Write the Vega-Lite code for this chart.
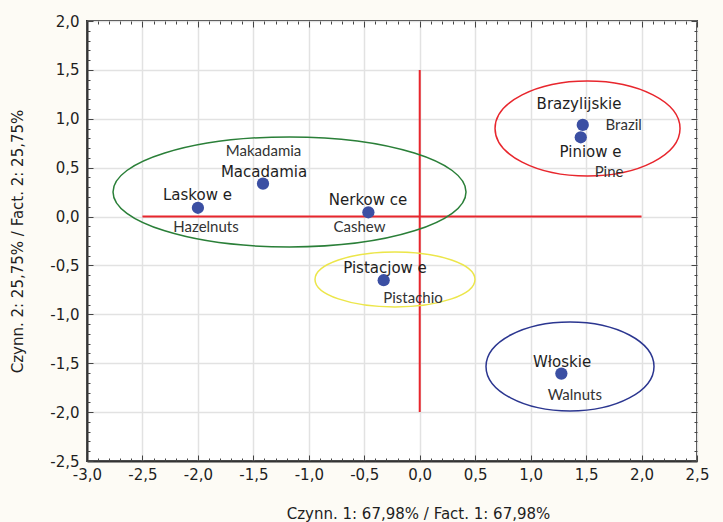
{
  "$schema": "https://vega.github.io/schema/vega-lite/v6.json",
  "width": 610,
  "height": 440,
  "autosize": "none",
  "padding": {"left": 87, "top": 21, "right": 26, "bottom": 61},
  "background": "#fdfbf5",
  "config": {
    "view": {"stroke": "#333333", "strokeWidth": 2, "fill": "white"},
    "axis": {"labelFont": "DejaVu Sans", "titleFont": "DejaVu Sans"}
  },
  "datasets": {
    "nuts": [
      {"pl": "Laskow e", "en": "Hazelnuts", "x": -2.0, "y": 0.09, "pl_x": -2.004, "pl_y": 0.22, "en_x": -1.927, "en_y": -0.106},
      {"pl": "Macadamia", "en": "Makadamia", "x": -1.413, "y": 0.336, "pl_x": -1.404, "pl_y": 0.459, "en_x": -1.408, "en_y": 0.671},
      {"pl": "Nerkow ce", "en": "Cashew", "x": -0.463, "y": 0.044, "pl_x": -0.466, "pl_y": 0.17, "en_x": -0.543, "en_y": -0.106},
      {"pl": "Brazylijskie", "en": "Brazil", "x": 1.47, "y": 0.937, "pl_x": 1.436, "pl_y": 1.148, "en_x": 1.839, "en_y": 0.937},
      {"pl": "Piniow e", "en": "Pine", "x": 1.452, "y": 0.811, "pl_x": 1.54, "pl_y": 0.657, "en_x": 1.707, "en_y": 0.453},
      {"pl": "Pistacjow e", "en": "Pistachio", "x": -0.325, "y": -0.651, "pl_x": -0.313, "pl_y": -0.526, "en_x": -0.06, "en_y": -0.829},
      {"pl": "Włoskie", "en": "Walnuts", "x": 1.277, "y": -1.606, "pl_x": 1.283, "pl_y": -1.484, "en_x": 1.398, "en_y": -1.824}
    ],
    "groups": [
      {"group": "g1", "cx": -1.174, "cy": 0.252},
      {"group": "g2", "cx": 1.513, "cy": 0.901},
      {"group": "g3", "cx": -0.223, "cy": -0.643},
      {"group": "g4", "cx": 1.355, "cy": -1.533}
    ],
    "cross": [
      {"x": -2.5, "x2": 2.0, "y": 0, "y2": 0},
      {"x": 0, "x2": 0, "y": 1.5, "y2": -2.0}
    ]
  },
  "resolve": {"axis": {"x": "independent", "y": "independent"}},
  "layer": [
    {
      "data": {"name": "cross"},
      "mark": {"type": "rule", "color": "#e8262d", "strokeWidth": 2},
      "encoding": {
        "x": {"field": "x", "type": "quantitative",
          "scale": {"domain": [-3, 2.5], "nice": false, "zero": false},
          "axis": {"orient": "bottom", "values": [-3, -2.5, -2, -1.5, -1, -0.5, 0, 0.5, 1, 1.5, 2, 2.5],
            "labelExpr": "replace(replace(format(datum.value, '.1f'), '.', ','), '\u2212', '-')",
            "labelFontSize": 15, "labelColor": "#1e1e1e", "labelPadding": 6, "labelFlush": false,
            "ticks": false, "domain": true, "domainColor": "#333333", "domainWidth": 2,
            "grid": true, "gridColor": "#e2e2e2", "gridWidth": 1.5,
            "title": "Czynn. 1: 67,98% / Fact. 1: 67,98%", "titleFontSize": 15, "titleFontWeight": "normal",
            "titleColor": "#1e1e1e", "titleX": 331, "titleY": 52, "titleBaseline": "middle", "titleAnchor": "middle"}},
        "x2": {"field": "x2"},
        "y": {"field": "y", "type": "quantitative",
          "scale": {"domain": [-2.5, 2], "nice": false, "zero": false},
          "axis": {"orient": "left", "values": [-2.5, -2, -1.5, -1, -0.5, 0, 0.5, 1, 1.5, 2],
            "labelExpr": "replace(replace(format(datum.value, '.1f'), '.', ','), '\u2212', '-')",
            "labelFontSize": 15, "labelColor": "#1e1e1e", "labelPadding": 8, "labelFlush": false,
            "ticks": false, "domain": true, "domainColor": "#333333", "domainWidth": 2,
            "grid": true, "gridColor": "#e2e2e2", "gridWidth": 1.5,
            "title": "Czynn. 2: 25,75% / Fact. 2: 25,75%", "titleFontSize": 15, "titleFontWeight": "normal",
            "titleColor": "#1e1e1e", "titleX": -70, "titleY": 220, "titleAngle": -90, "titleBaseline": "middle", "titleAlign": "center"}},
        "y2": {"field": "y2"}
      }
    },
    {
      "data": {"name": "groups"},
      "mark": {"type": "point", "filled": false, "strokeWidth": 1.5, "opacity": 1},
      "encoding": {
        "x": {"field": "cx", "type": "quantitative",
          "axis": {"orient": "bottom", "values": [-3,-2.9,-2.8,-2.7,-2.6,-2.5,-2.4,-2.3,-2.2,-2.1,-2,-1.9,-1.8,-1.7,-1.6,-1.5,-1.4,-1.3,-1.2,-1.1,-1,-0.9,-0.8,-0.7,-0.6,-0.5,-0.4,-0.3,-0.2,-0.1,0,0.1,0.2,0.3,0.4,0.5,0.6,0.7,0.8,0.9,1,1.1,1.2,1.3,1.4,1.5,1.6,1.7,1.8,1.9,2,2.1,2.2,2.3,2.4,2.5],
            "labels": false, "grid": false, "domain": false, "title": null,
            "tickColor": "#444444", "tickWidth": 1,
            "tickSize": {"condition": {"test": "abs(datum.value*2 - round(datum.value*2)) < 0.001", "value": -6}, "value": -3}}},
        "y": {"field": "cy", "type": "quantitative",
          "axis": {"orient": "left", "values": [-2.5,-2.4,-2.3,-2.2,-2.1,-2,-1.9,-1.8,-1.7,-1.6,-1.5,-1.4,-1.3,-1.2,-1.1,-1,-0.9,-0.8,-0.7,-0.6,-0.5,-0.4,-0.3,-0.2,-0.1,0,0.1,0.2,0.3,0.4,0.5,0.6,0.7,0.8,0.9,1,1.1,1.2,1.3,1.4,1.5,1.6,1.7,1.8,1.9,2],
            "labels": false, "grid": false, "domain": false, "title": null,
            "tickColor": "#444444", "tickWidth": 1,
            "tickSize": {"condition": {"test": "abs(datum.value*2 - round(datum.value*2)) < 0.001", "value": -6}, "value": -3}}},
        "shape": {"field": "group", "type": "nominal", "legend": null,
          "scale": {"domain": ["g1", "g2", "g3", "g4"], "range": [
            "M -1 0 C -1 -0.1721 -0.5523 -0.3116 0 -0.3116 C 0.5523 -0.3116 1 -0.1721 1 0 C 1 0.1721 0.5523 0.3116 0 0.3116 C -0.5523 0.3116 -1 0.1721 -1 0 Z",
            "M -1 0 C -1 -0.2836 -0.5523 -0.5135 0 -0.5135 C 0.5523 -0.5135 1 -0.2836 1 0 C 1 0.2836 0.5523 0.5135 0 0.5135 C -0.5523 0.5135 -1 0.2836 -1 0 Z",
            "M -1 0 C -1 -0.19 -0.5523 -0.344 0 -0.344 C 0.5523 -0.344 1 -0.19 1 0 C 1 0.19 0.5523 0.344 0 0.344 C -0.5523 0.344 -1 0.19 -1 0 Z",
            "M -1 0 C -1 -0.2927 -0.5523 -0.53 0 -0.53 C 0.5523 -0.53 1 -0.2927 1 0 C 1 0.2927 0.5523 0.53 0 0.53 C -0.5523 0.53 -1 0.2927 -1 0 Z"
          ]}},
        "size": {"field": "group", "type": "nominal", "legend": null,
          "scale": {"type": "ordinal", "domain": ["g1", "g2", "g3", "g4"], "range": [124609, 34225, 25600, 28224]}},
        "stroke": {"field": "group", "type": "nominal", "legend": null,
          "scale": {"domain": ["g1", "g2", "g3", "g4"], "range": ["#2a7f38", "#e8262d", "#ece64a", "#2b3690"]}}
      }
    },
    {
      "data": {"name": "nuts"},
      "mark": {"type": "point", "filled": true, "size": 150, "color": "#3b4fa3", "opacity": 1},
      "encoding": {
        "x": {"field": "x", "type": "quantitative",
          "axis": {"orient": "top", "values": [-3,-2.9,-2.8,-2.7,-2.6,-2.5,-2.4,-2.3,-2.2,-2.1,-2,-1.9,-1.8,-1.7,-1.6,-1.5,-1.4,-1.3,-1.2,-1.1,-1,-0.9,-0.8,-0.7,-0.6,-0.5,-0.4,-0.3,-0.2,-0.1,0,0.1,0.2,0.3,0.4,0.5,0.6,0.7,0.8,0.9,1,1.1,1.2,1.3,1.4,1.5,1.6,1.7,1.8,1.9,2,2.1,2.2,2.3,2.4,2.5],
            "labels": false, "grid": false, "domain": false, "title": null,
            "tickColor": "#444444", "tickWidth": 1,
            "tickSize": {"condition": {"test": "abs(datum.value*2 - round(datum.value*2)) < 0.001", "value": -6}, "value": -3}}},
        "y": {"field": "y", "type": "quantitative",
          "axis": {"orient": "right", "values": [-2.5,-2.4,-2.3,-2.2,-2.1,-2,-1.9,-1.8,-1.7,-1.6,-1.5,-1.4,-1.3,-1.2,-1.1,-1,-0.9,-0.8,-0.7,-0.6,-0.5,-0.4,-0.3,-0.2,-0.1,0,0.1,0.2,0.3,0.4,0.5,0.6,0.7,0.8,0.9,1,1.1,1.2,1.3,1.4,1.5,1.6,1.7,1.8,1.9,2],
            "labels": false, "grid": false, "domain": false, "title": null,
            "tickColor": "#444444", "tickWidth": 1,
            "tickSize": {"condition": {"test": "abs(datum.value*2 - round(datum.value*2)) < 0.001", "value": -6}, "value": -3}}}
      }
    },
    {
      "data": {"name": "nuts"},
      "mark": {"type": "text", "font": "DejaVu Sans", "fontSize": 15, "color": "#1e1e1e", "align": "center", "baseline": "middle"},
      "encoding": {
        "x": {"field": "pl_x", "type": "quantitative", "axis": null},
        "y": {"field": "pl_y", "type": "quantitative", "axis": null},
        "text": {"field": "pl"}
      }
    },
    {
      "data": {"name": "nuts"},
      "mark": {"type": "text", "font": "Lato", "fontSize": 15, "color": "#333333", "align": "center", "baseline": "middle"},
      "encoding": {
        "x": {"field": "en_x", "type": "quantitative", "axis": null},
        "y": {"field": "en_y", "type": "quantitative", "axis": null},
        "text": {"field": "en"}
      }
    }
  ]
}
